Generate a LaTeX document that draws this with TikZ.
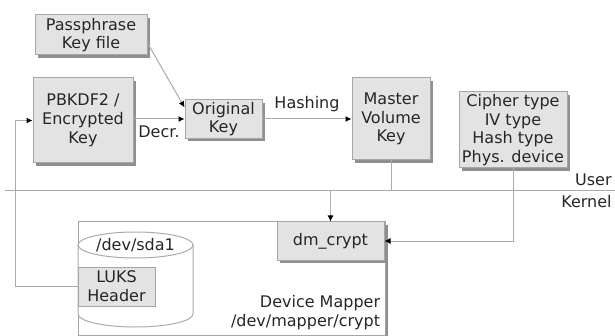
\documentclass[tikz,border=0pt]{standalone}
\usepackage{fontspec}
\setmainfont{DejaVu Sans}
\usepackage{xcolor}
\usetikzlibrary{arrows.meta,positioning,shadows,calc}

\definecolor{boxfill}{HTML}{E3E3E3}
\definecolor{boxline}{HTML}{A6A6A6}
\definecolor{shadowgray}{HTML}{8F8F8F}
\definecolor{linegray}{HTML}{ABABAB}
\definecolor{textgray}{HTML}{262626}

\begin{document}
\begin{tikzpicture}[x=0.5pt, y=-0.5pt, font=\fontsize{8}{9.4}\selectfont, text=textgray,
  box/.style={rectangle, draw=boxline, fill=boxfill, line width=0.5pt, align=center, inner sep=1pt,
    drop shadow={shadow xshift=1.5pt, shadow yshift=-1.5pt, fill=shadowgray, opacity=1}},
  link/.style={draw=linegray, line width=0.5pt},
  arr/.style={link, -{Latex[length=3pt, width=3pt, color=black]}}]
\useasboundingbox (0,0) rectangle (615,336);

% User space inputs
\node[box, minimum width=56pt, minimum height=20pt] (pass) at (91,35) {Passphrase\\Key file};
\node[box, minimum width=50pt, minimum height=42.5pt] (pbkdf) at (83,120.5) {PBKDF2 /\\Encrypted\\Key};
\node[box, minimum width=38.5pt, minimum height=19pt] (orig) at (223.5,119) {Original\\Key};
\node[box, minimum width=39pt, minimum height=41pt] (master) at (391,119) {Master\\Volume\\Key};
\node[box, minimum width=54pt, minimum height=38pt] (cipher) at (513,130) {Cipher type\\IV type\\Hash type\\Phys. device};

% User / Kernel border
\coordinate (uk west) at (5,191);
\coordinate (uk east) at (615,191);
\draw[link] (uk west) -- (uk east);
\node[anchor=east, inner sep=1pt] (user) at (614,180) {User};
\node[anchor=east, inner sep=1pt] (kernel) at (614,202) {Kernel};

% Device mapper
\node[draw=boxline, fill=white, line width=0.5pt, minimum width=153.5pt, minimum height=56.5pt, inner sep=0pt,
  drop shadow={shadow xshift=1.5pt, shadow yshift=-1.5pt, fill=shadowgray, opacity=1}] (mapper) at (231.5,278.5) {};
\node[anchor=south east, align=right, inner sep=2.5pt] (mapperlabel) at (mapper.south east) {Device Mapper\\/dev/mapper/crypt};

% Disk
\coordinate (disk) at (135.5,245);
\draw[link, fill=white] ($(disk)+(-57.5,0)$) -- ++(0,69) arc[start angle=180, end angle=360, x radius=28.75pt, y radius=6.5pt] -- ++(0,-69);
\draw[link] (disk) ellipse[x radius=28.75pt, y radius=6.5pt];
\node (sda) at (disk) {/dev/sda1};
\node[draw=boxline, fill=boxfill, line width=0.5pt, minimum width=38.5pt, minimum height=19.5pt, align=center, inner sep=1pt] (luks) at (116.5,286.5) {LUKS\\Header};

\node[box, minimum width=53.5pt, minimum height=19pt] (dm) at (330.5,241) {dm\_crypt};

% Connectors
\draw[arr] ([yshift=-4pt]pass.east) -- ([yshift=-4pt]orig.north west);
\draw[arr] (pbkdf.east |- orig.west) -- node[below] {Decr.} (orig.west);
\draw[arr] (orig.east) -- node[above] {Hashing} (master.west);
\draw[arr] (master.south) -- (master.south |- uk west) -| (dm.north);
\draw[arr] (cipher.south) |- (dm.east);
\draw[arr] (luks.west) -- ++(-62,0) |- (pbkdf.west);

\end{tikzpicture}
\end{document}
